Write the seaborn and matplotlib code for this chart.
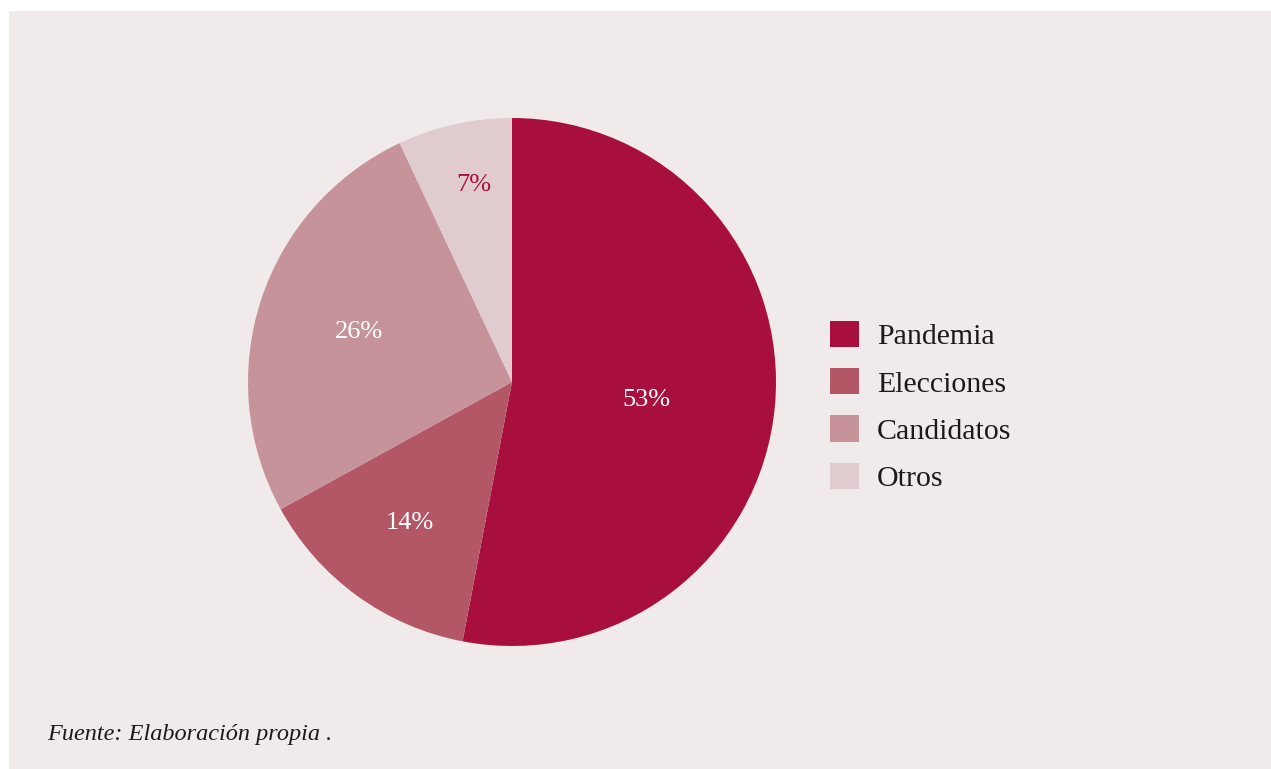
import matplotlib
matplotlib.use("Agg")
import matplotlib.pyplot as plt
from matplotlib.patches import Rectangle, Patch
import numpy as np
import seaborn as sns

# Topic shares (%)
categories = ["Pandemia", "Elecciones", "Candidatos", "Otros"]
shares = [53, 14, 26, 7]
slice_colors = ["#a80f3c", "#b35766", "#c7939b", "#e0cbcf"]
label_colors = ["white", "white", "white", "#a80f3c"]
label_radius = [0.515, 0.66, 0.61, 0.76]
label_angle_shift = [-2.0, 0.0, 0.0, -1.5]
source_note = "Fuente: Elaboración propia ."

sns.set_theme(style="white")
plt.rcParams["font.family"] = ["Liberation Serif", "DejaVu Serif"]

W, H = 1271, 769
fig = plt.figure(figsize=(W / 100, H / 100), dpi=100)
fig.patch.set_facecolor("white")

# Tinted panel behind the chart
fig.patches.append(Rectangle((9 / W, 0), 1 - 9 / W, 1 - 11 / H,
                             transform=fig.transFigure, facecolor="#f0eaea",
                             edgecolor="none", zorder=-10))

palette = sns.color_palette(slice_colors)

R = 264
cx, cy = 512, H - 382
ax = fig.add_axes([(cx - R) / W, (cy - R) / H, 2 * R / W, 2 * R / H])
ax.set_facecolor("none")
wedges, _ = ax.pie(shares, colors=palette, startangle=90, counterclock=False,
                   radius=1.0, wedgeprops=dict(linewidth=0))
ax.set_xlim(-1, 1)
ax.set_ylim(-1, 1)
ax.set_aspect("equal")
ax.axis("off")

# Percentage labels near each wedge's mid angle
total = float(sum(shares))
start = 90.0
for val, col, rr, dth in zip(shares, label_colors, label_radius,
                             label_angle_shift):
    span = 360.0 * val / total
    mid = np.deg2rad(start - span / 2 + dth)
    ax.text(rr * np.cos(mid), rr * np.sin(mid), f"{val}%", ha="center",
            va="center", fontsize=19, color=col)
    start -= span

handles = [Patch(facecolor=c, edgecolor="none") for c in slice_colors]
fig.legend(handles, categories, loc="upper left",
           bbox_to_anchor=(830 / W, 1 - 321 / H), frameon=False,
           fontsize=21.5, handlelength=0.97, handleheight=0.97,
           handletextpad=0.6, labelspacing=0.6, borderpad=0,
           borderaxespad=0, labelcolor="#1a1a1a")

fig.text(47 / W, 1 - 740 / H, source_note, fontsize=17.5, style="italic",
         color="#1a1a1a", ha="left", va="baseline")

fig.savefig("out.png", dpi=100, facecolor=fig.get_facecolor())
